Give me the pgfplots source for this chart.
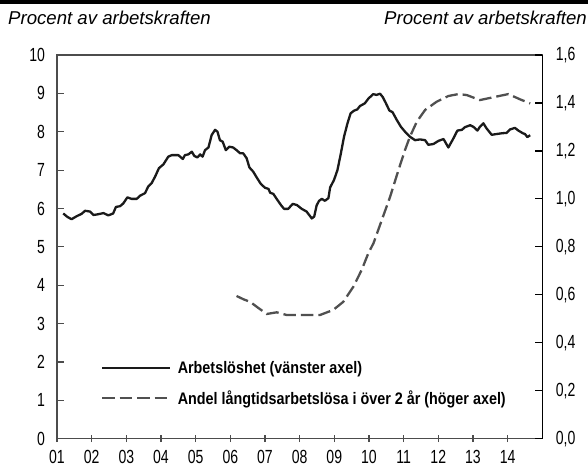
\documentclass[border=0pt]{standalone}
\usepackage{fontspec}
\setmainfont{Liberation Sans}
\newfontfamily\cond[FakeStretch=0.74]{Liberation Sans}
\newfontfamily\condb[FakeStretch=0.86]{Liberation Sans}
\usepackage{pgfplots}
\pgfplotsset{compat=1.18}
\definecolor{solidc}{HTML}{1A1A1A}
\definecolor{dashc}{HTML}{505050}
\begin{document}
\begin{tikzpicture}[x=1pt,y=1pt]
\useasboundingbox (0,0) rectangle (588,468);
\fill[black] (0,464) rectangle (588,468);
\node[anchor=base west, font=\itshape\fontsize{18.6}{21}\selectfont, inner sep=0pt] at (8,443) {Procent av arbetskraften};
\node[anchor=base east, font=\itshape\fontsize{18.6}{21}\selectfont, inner sep=0pt] at (587,443) {Procent av arbetskraften};
\begin{axis}[
  at={(57pt,29.3pt)}, anchor=south west,
  width=485.3pt, height=383.7pt, scale only axis,
  xmin=2001, xmax=2015, ymin=0, ymax=10,
  xtick={2001,2002,2003,2004,2005,2006,2007,2008,2009,2010,2011,2012,2013,2014},
  xticklabels={01,02,03,04,05,06,07,08,09,10,11,12,13,14},
  ytick={0,1,2,3,4,5,6,7,8,9,10},
  tick pos=left,
  xtick align=center, ytick align=inside,
  major tick length=7pt,
  axis line style={black!70, line width=1.2pt},
  tick style={black!70, line width=1.2pt},
  /pgf/number format/assume math mode=true,
  ticklabel style={font=\cond\fontsize{19}{19}\selectfont},
  yticklabel style={xshift=-8.5pt},
  xticklabel style={yshift=-4.5pt},
  legend style={at={(0.084,0.144)}, anchor=west, draw=none, fill=none,
    font=\condb\bfseries\fontsize{16.7}{16.7}\selectfont, row sep=12pt},
  legend cell align=left,
  legend image code/.code={\draw[#1] (0pt,0pt) -- (68pt,0pt); \path (72.5pt,0pt);},
]
\addplot[solidc, line width=2.3pt, line join=round] coordinates {
(2001.18,5.87) (2001.30,5.78) (2001.42,5.72) (2001.57,5.80) (2001.71,5.86) (2001.81,5.94)
(2001.95,5.92) (2002.05,5.83) (2002.19,5.85) (2002.34,5.88) (2002.48,5.82) (2002.62,5.87)
(2002.70,6.04) (2002.82,6.06) (2002.91,6.13) (2003.03,6.29) (2003.15,6.25) (2003.30,6.25)
(2003.39,6.33) (2003.54,6.40) (2003.63,6.57) (2003.73,6.66) (2003.83,6.83) (2003.94,7.05)
(2004.07,7.15) (2004.21,7.35) (2004.31,7.39) (2004.50,7.39) (2004.63,7.29) (2004.69,7.39)
(2004.79,7.41) (2004.89,7.48) (2004.96,7.37) (2005.05,7.33) (2005.13,7.41) (2005.20,7.35)
(2005.27,7.52) (2005.37,7.59) (2005.46,7.91) (2005.56,8.05) (2005.63,8.00) (2005.70,7.78)
(2005.78,7.74) (2005.87,7.52) (2005.97,7.61) (2006.08,7.59) (2006.18,7.52) (2006.28,7.44)
(2006.37,7.44) (2006.47,7.31) (2006.55,7.07) (2006.66,6.96) (2006.76,6.81) (2006.88,6.64)
(2007.00,6.54) (2007.10,6.51) (2007.15,6.41) (2007.24,6.38) (2007.36,6.22) (2007.46,6.09)
(2007.55,5.99) (2007.67,5.99) (2007.80,6.12) (2007.92,6.09) (2008.06,5.99) (2008.20,5.92)
(2008.35,5.74) (2008.42,5.79) (2008.49,6.08) (2008.56,6.20) (2008.64,6.25) (2008.73,6.20)
(2008.83,6.27) (2008.88,6.55) (2008.99,6.74) (2009.09,7.00) (2009.19,7.44) (2009.28,7.87)
(2009.38,8.22) (2009.47,8.48) (2009.57,8.55) (2009.66,8.58) (2009.74,8.67) (2009.88,8.74)
(2009.98,8.86) (2010.12,8.98) (2010.22,8.96) (2010.32,8.99) (2010.40,8.90) (2010.49,8.74)
(2010.59,8.55) (2010.68,8.51) (2010.80,8.31) (2010.92,8.13) (2011.04,8.00) (2011.18,7.87)
(2011.33,7.78) (2011.47,7.80) (2011.62,7.78) (2011.71,7.66) (2011.86,7.68) (2012.00,7.76)
(2012.15,7.81) (2012.29,7.59) (2012.42,7.80) (2012.55,8.03) (2012.68,8.05) (2012.77,8.12)
(2012.92,8.17) (2013.01,8.13) (2013.13,8.03) (2013.20,8.13) (2013.30,8.22) (2013.39,8.09)
(2013.54,7.92) (2013.68,7.94) (2013.83,7.96) (2013.97,7.97) (2014.07,8.06) (2014.21,8.10)
(2014.31,8.03) (2014.44,7.96) (2014.50,7.94) (2014.57,7.86) (2014.65,7.91)
};
\addlegendentry{Arbetslöshet (vänster axel)}
\addlegendimage{dashc, line width=2.3pt, dash pattern=on 12.5pt off 5pt}
\addlegendentry{Andel långtidsarbetslösa i över 2 år (höger axel)}
\end{axis}
\begin{axis}[
  at={(57pt,29.3pt)}, anchor=south west,
  width=485.3pt, height=383.7pt, scale only axis,
  xmin=2001, xmax=2015, ymin=0, ymax=1.6,
  axis x line=none, axis y line*=right,
  ytick={0,0.2,0.4,0.6,0.8,1.0,1.2,1.4,1.6},
  ytick align=inside,
  major tick length=7pt,
  axis line style={black, line width=1.2pt},
  tick style={black, line width=1.2pt},
  /pgf/number format/assume math mode=true,
  yticklabel style={font=\cond\fontsize{19}{19}\selectfont, xshift=10pt,
    /pgf/number format/.cd, fixed, fixed zerofill, precision=1, use comma},
]
\addplot[dashc, line width=2.3pt, dash pattern=on 12.5pt off 5pt] coordinates {
(2006.18,0.595) (2006.40,0.580) (2006.57,0.571) (2006.81,0.545) (2007.05,0.520)
(2007.34,0.527) (2007.62,0.516) (2008.10,0.516) (2008.59,0.516) (2008.97,0.537)
(2009.26,0.571) (2009.55,0.634) (2009.79,0.704) (2009.98,0.773) (2010.13,0.815)
(2010.37,0.912) (2010.61,1.009) (2010.85,1.120) (2011.04,1.204) (2011.18,1.259)
(2011.38,1.322) (2011.62,1.371) (2011.95,1.405) (2012.29,1.429) (2012.58,1.437)
(2012.82,1.433) (2013.20,1.412) (2013.59,1.424) (2014.02,1.437) (2014.36,1.415)
(2014.65,1.398)
};
\end{axis}
\end{tikzpicture}
\end{document}
